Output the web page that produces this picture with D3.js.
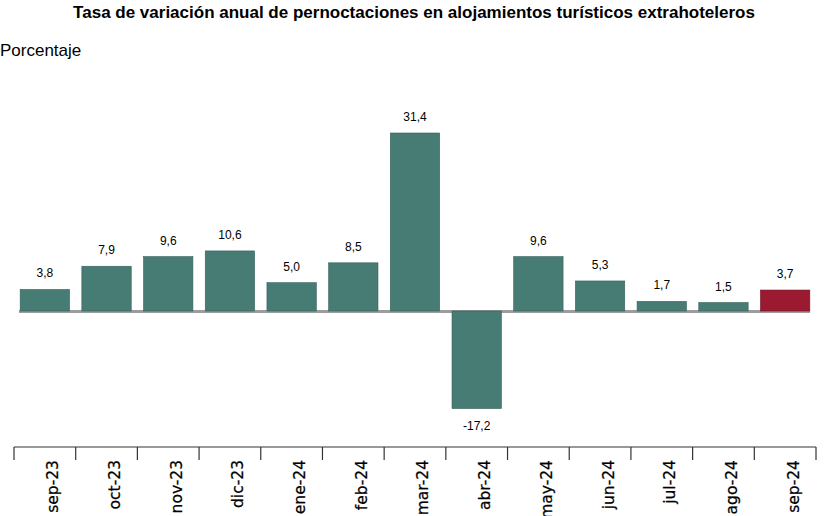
<!DOCTYPE html>
<html>
<head>
<meta charset="utf-8">
<script src="https://cdn.jsdelivr.net/npm/d3@7"></script>
<style>
  body { margin: 0; background: #fff; overflow: hidden; }
</style>
</head>
<body>
<script>
// data
const months = ["sep-23", "oct-23", "nov-23", "dic-23", "ene-24", "feb-24", "mar-24",
                "abr-24", "may-24", "jun-24", "jul-24", "ago-24", "sep-24"]
const values = [3.8, 7.9, 9.6, 10.6, 5.0, 8.5, 31.4, -17.2, 9.6, 5.3, 1.7, 1.5, 3.7]
const title = "Tasa de variación anual de pernoctaciones en alojamientos turísticos extrahoteleros"
const yLabel = "Porcentaje"

const W = 827, H = 516
const svg = d3.select("body").append("svg")
    .attr("width", W)
    .attr("height", H)

svg.append("text")
    .attr("x", 414)
    .attr("y", 18)
    .attr("text-anchor", "middle")
    .style("font-family", "Arial, 'Liberation Sans', sans-serif")
    .style("font-weight", "bold")
    .style("font-size", "17px")
    .text(title)

svg.append("text")
    .attr("x", 0)
    .attr("y", 56)
    .style("font-family", "Arial, 'Liberation Sans', sans-serif")
    .style("font-size", "17px")
    .text(yLabel)

let x = d3.scaleBand()
    .domain(months)
    .range([14, 816])
    .paddingInner(0.2)
    .paddingOuter(0.1)

let y = d3.scaleLinear()
    .domain([-20, 35])
    .range([424.4, 112.6])

// zero line
svg.append("line")
    .attr("x1", 19)
    .attr("x2", 810)
    .attr("y1", y(0) + 0.5)
    .attr("y2", y(0) + 0.5)
    .attr("stroke", "#9c9c9c")
    .attr("stroke-width", 3)

svg.selectAll("rect.bar")
    .data(values)
    .enter()
    .append("rect")
    .attr("class", "bar")
    .attr("x", (d, i) => x(months[i]))
    .attr("y", d => Math.min(y(d), y(0)))
    .attr("width", x.bandwidth())
    .attr("height", d => Math.abs(y(d) - y(0)))
    .attr("fill", (d, i) => i === values.length - 1 ? "#9b1a31" : "#467c73")
    .attr("stroke", (d, i) => i === values.length - 1 ? "#6e1222" : "#35605a")
    .attr("stroke-width", 0.6)

svg.selectAll("text.val")
    .data(values)
    .enter()
    .append("text")
    .attr("class", "val")
    .attr("x", (d, i) => x(months[i]) + x.bandwidth() / 2)
    .attr("y", d => d >= 0 ? y(d) - 12 : y(d) + 21)
    .attr("text-anchor", "middle")
    .style("font-family", "Arial, 'Liberation Sans', sans-serif")
    .style("font-size", "12px")
    .text(d => d.toFixed(1).replace(".", ","))

// category axis at the bottom
let axis = svg.append("g")
    .attr("transform", "translate(0,447)")

axis.append("line")
    .attr("x1", 14)
    .attr("x2", 816)
    .attr("stroke", "#333")
    .attr("stroke-width", 1.2)

let edges = months.map(m => x(m) - x.step() * 0.1).concat([816])
axis.selectAll("line.tick")
    .data(edges)
    .enter()
    .append("line")
    .attr("class", "tick")
    .attr("x1", d => d)
    .attr("x2", d => d)
    .attr("y1", 0)
    .attr("y2", 13)
    .attr("stroke", "#333")
    .attr("stroke-width", 1.2)

axis.selectAll("text")
    .data(months)
    .enter()
    .append("text")
    .attr("transform", d => `translate(${x(d) + x.bandwidth() / 2 + 8},13) rotate(-90)`)
    .attr("text-anchor", "end")
    .attr("dy", "0.35em")
    .style("font-family", "'DejaVu Sans', Verdana, sans-serif")
    .style("font-size", "15.5px")
    .style("fill", "#000")
    .style("stroke", "#000")
    .style("stroke-width", 0.25)
    .text(d => d)
</script>
</body>
</html>
